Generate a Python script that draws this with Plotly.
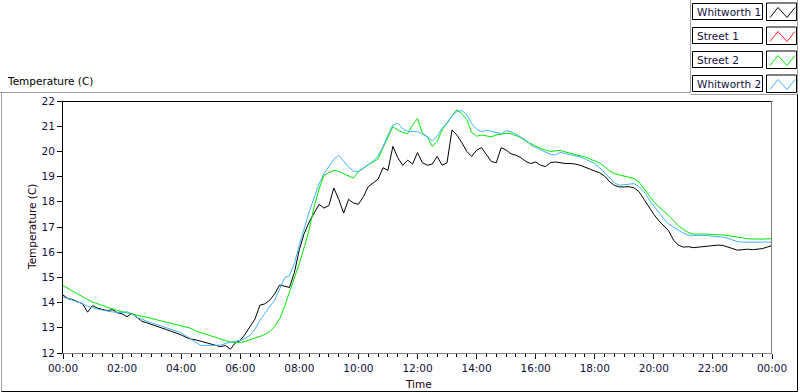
import plotly.graph_objects as go
import pandas as pd

# ---------------- data (10-minute samples, 00:00 -> 24:00) ----------------
times = pd.date_range("2000-01-01 00:00", "2000-01-02 00:00", freq="10min")

series_names = ["Whitworth 1", "Street 1", "Street 2", "Whitworth 2"]
series_colors = ["#000000", "#FF2020", "#00E800", "#40B4F8"]

whitworth1 = [
    14.30, 14.16, 14.12, 14.05, 13.95, 13.62,
    13.88, 13.78, 13.74, 13.68, 13.72, 13.60,
    13.55, 13.44, 13.58, 13.42, 13.26, 13.20,
    13.14, 13.06, 13.00, 12.93, 12.86, 12.80,
    12.72, 12.62, 12.55, 12.52, 12.47, 12.40,
    12.35, 12.30, 12.25, 12.30, 12.15, 12.40,
    12.50, 12.75, 13.05, 13.35, 13.90, 13.95,
    14.10, 14.35, 14.70, 14.65, 14.60, 15.20,
    16.10, 16.75, 17.20, 17.55, 17.90, 17.75,
    17.85, 18.55, 18.10, 17.55, 18.10, 17.95,
    17.90, 18.20, 18.60, 18.75, 18.90, 19.35,
    19.25, 20.20, 19.75, 19.45, 19.65, 19.50,
    19.95, 19.55, 19.45, 19.50, 19.80, 19.45,
    19.55, 20.85, 20.65, 20.35, 20.00, 19.80,
    20.05, 20.15, 19.85, 19.60, 19.55, 20.15,
    20.05, 19.90, 19.85, 19.75, 19.60, 19.52,
    19.58, 19.45, 19.40, 19.55, 19.58, 19.55,
    19.52, 19.52, 19.50, 19.45, 19.36, 19.30,
    19.22, 19.15, 19.02, 18.80, 18.65, 18.59,
    18.59, 18.60, 18.55, 18.40, 18.10, 17.78,
    17.50, 17.25, 17.05, 16.85, 16.48, 16.28,
    16.20, 16.22, 16.18, 16.20, 16.22, 16.24,
    16.25, 16.28, 16.27, 16.20, 16.12, 16.08,
    16.10, 16.12, 16.10, 16.12, 16.14, 16.20,
    16.27,
]

street1 = []  # no visible data for Street 1 in the reference

street2 = [
    14.68, 14.55, 14.45, 14.34, 14.22, 14.12,
    14.02, 13.95, 13.88, 13.82, 13.75, 13.69,
    13.64, 13.60, 13.56, 13.51, 13.47, 13.42,
    13.37, 13.32, 13.27, 13.22, 13.17, 13.12,
    13.08, 13.03, 12.98, 12.87, 12.81, 12.74,
    12.68, 12.62, 12.55, 12.48, 12.43, 12.42,
    12.42, 12.46, 12.52, 12.58, 12.66, 12.74,
    12.85, 13.05, 13.35, 13.85, 14.40, 14.95,
    15.55, 16.20, 16.90, 17.80, 18.50, 19.05,
    19.15, 19.25, 19.20, 19.12, 19.03, 18.94,
    19.20, 19.35, 19.48, 19.58, 19.70, 20.15,
    20.55, 20.98, 20.85, 20.75, 20.70, 21.05,
    21.30, 20.72, 20.58, 20.20, 20.40, 20.85,
    21.15, 21.40, 21.65, 21.50, 21.26, 20.75,
    20.60, 20.65, 20.62, 20.58, 20.65, 20.70,
    20.72, 20.70, 20.64, 20.55, 20.40, 20.30,
    20.22, 20.12, 20.05, 20.00, 20.02, 20.04,
    19.98, 19.93, 19.90, 19.86, 19.78, 19.70,
    19.62, 19.54, 19.40, 19.22, 19.12, 19.07,
    19.03, 18.98, 18.92, 18.78, 18.53, 18.28,
    18.00, 17.80, 17.63, 17.46, 17.25, 17.05,
    16.90, 16.78, 16.72, 16.72, 16.73, 16.72,
    16.70, 16.70, 16.68, 16.66, 16.62, 16.60,
    16.57, 16.53, 16.52, 16.52, 16.52, 16.53,
    16.53,
]

whitworth2 = [
    14.22, 14.15, 14.08, 14.02, 13.96, 13.85,
    13.78, 13.74, 13.70, 13.66, 13.63, 13.62,
    13.60, 13.64, 13.55, 13.42, 13.33, 13.26,
    13.20, 13.13, 13.06, 13.00, 12.93, 12.87,
    12.80, 12.68, 12.56, 12.42, 12.30, 12.30,
    12.30, 12.30, 12.31, 12.38, 12.44, 12.47,
    12.50, 12.58, 12.70, 12.95, 13.30, 13.60,
    13.85, 14.10, 14.55, 14.98, 15.08, 15.55,
    16.30, 17.00, 17.60, 18.15, 18.70, 19.12,
    19.40, 19.68, 19.85, 19.62, 19.38, 19.22,
    19.20, 19.32, 19.48, 19.62, 19.82, 20.20,
    20.65, 21.05, 21.12, 20.90, 20.80, 20.78,
    20.78, 20.68, 20.58, 20.42, 20.60, 20.92,
    21.11, 21.40, 21.58, 21.62, 21.46, 21.10,
    20.88, 20.78, 20.84, 20.80, 20.74, 20.70,
    20.82, 20.78, 20.68, 20.55, 20.45, 20.25,
    20.15, 20.08, 19.95, 19.88, 19.86, 19.96,
    19.92, 19.86, 19.82, 19.79, 19.70, 19.60,
    19.52, 19.35, 19.15, 18.95, 18.75, 18.66,
    18.68, 18.72, 18.72, 18.60, 18.40, 18.10,
    17.85, 17.60, 17.32, 17.12, 16.98, 16.87,
    16.76, 16.67, 16.67, 16.67, 16.67, 16.66,
    16.63, 16.62, 16.60, 16.55, 16.48, 16.42,
    16.40, 16.40, 16.40, 16.40, 16.40, 16.40,
    16.40,
]

y_ticks = [12, 13, 14, 15, 16, 17, 18, 19, 20, 21, 22]

# ---------------- figure ----------------
W, H = 800, 392
L, R, T, B = 63, 772, 101, 353
FONT = "DejaVu Sans"
FS = 10.5


def px(x):
    return (x - L) / (R - L)


def py(y):
    return (B - y) / (B - T)


fig = go.Figure()
all_series = [whitworth1, street1, street2, whitworth2]
for name, col, vals in zip(series_names, series_colors, all_series):
    fig.add_trace(go.Scatter(
        x=times[:len(vals)], y=vals, mode="lines", name=name,
        line=dict(color=col, width=1), showlegend=False,
    ))

shapes = []


def hline(x0, x1, y, color):
    shapes.append(dict(type="line", xref="paper", yref="paper",
                       x0=px(x0), x1=px(x1), y0=py(y), y1=py(y),
                       line=dict(color=color, width=1)))


def vline(x, y0, y1, color):
    shapes.append(dict(type="line", xref="paper", yref="paper",
                       x0=px(x), x1=px(x), y0=py(y0), y1=py(y1),
                       line=dict(color=color, width=1)))


def rect(x0, y0, x1, y1, color):
    shapes.append(dict(type="rect", xref="paper", yref="paper",
                       x0=px(x0), x1=px(x1), y0=py(y0), y1=py(y1),
                       line=dict(color=color, width=1), fillcolor="white"))


# plot-area frame (top/left dark, right gray)
hline(62.5, 772.5, 101.5, "#000000")
vline(771.5, 101, 353, "#808080")

# outer panel frames
hline(0, 690.5, 92.5, "#A0A0A0")
vline(690.5, 0, 92.5, "#A0A0A0")
hline(690.5, 797.5, 94.5, "#A0A0A0")
vline(797.5, 0, 94.5, "#A0A0A0")
vline(797.5, 94.5, 391.5, "#000000")
vline(1.5, 92.5, 391.5, "#A0A0A0")
hline(1.5, 797.5, 391.5, "#000000")

annotations = []
row_tops = [3.5, 27.5, 51.5, 75.5]
for name, col, top in zip(series_names, series_colors, row_tops):
    rect(692.5, top, 762.5, top + 16, "#000000")
    rect(766.5, top - 0.5, 796.5, top + 17, "#000000")
    zx = [770, 778, 787, 795]
    zy = [top + 14, top + 4, top + 14, top + 4]
    for i in range(3):
        shapes.append(dict(type="line", xref="paper", yref="paper",
                           x0=px(zx[i]), x1=px(zx[i + 1]),
                           y0=py(zy[i]), y1=py(zy[i + 1]),
                           line=dict(color=col, width=1)))
    annotations.append(dict(xref="paper", yref="paper", x=px(695), y=py(top + 8.5),
                            text=name, showarrow=False, xanchor="left", yanchor="middle",
                            font=dict(family=FONT, size=FS, color="#101040")))

annotations.append(dict(xref="paper", yref="paper", x=px(5), y=py(81),
                        text="Temperature (C)", showarrow=False,
                        xanchor="left", yanchor="middle",
                        font=dict(family=FONT, size=FS, color="#000000")))
annotations.append(dict(xref="paper", yref="paper", x=px(32), y=py(227),
                        text="Temperature (C)", showarrow=False, textangle=-90,
                        xanchor="center", yanchor="middle",
                        font=dict(family=FONT, size=FS, color="#200010")))
annotations.append(dict(xref="paper", yref="paper", x=px(418), y=py(384),
                        text="Time", showarrow=False,
                        xanchor="center", yanchor="middle",
                        font=dict(family=FONT, size=FS, color="#200010")))

fig.update_layout(
    width=W, height=H, autosize=False,
    margin=dict(l=L, r=W - R, t=T, b=H - B, pad=0),
    paper_bgcolor="white", plot_bgcolor="white",
    shapes=shapes, annotations=annotations,
    font=dict(family=FONT, size=FS, color="#101040"),
    showlegend=False,
)

fig.update_xaxes(
    type="date",
    range=[times[0], times[-1]],
    tick0=times[0], dtick=2 * 3600 * 1000, tickformat="%H:%M",
    ticks="outside", ticklen=5, tickcolor="#000000", tickwidth=1,
    minor=dict(dtick=20 * 60 * 1000, ticks="outside", ticklen=3,
               tickcolor="#000000", tickwidth=1, showgrid=False),
    showline=True, linecolor="#808080", linewidth=1,
    showgrid=False, zeroline=False,
    tickfont=dict(family=FONT, size=FS, color="#101040"),
)
fig.update_yaxes(
    range=[12, 22], tickmode="array", tickvals=y_ticks,
    ticks="outside", ticklen=5, tickcolor="#000000", tickwidth=1,
    showline=True, linecolor="#000000", linewidth=1,
    showgrid=False, zeroline=False,
    tickfont=dict(family=FONT, size=FS, color="#101040"),
)

fig.write_html(
    "out.html",
    config={"displayModeBar": False},
    post_script="document.body.style.margin='0';document.body.style.padding='0';",
)
